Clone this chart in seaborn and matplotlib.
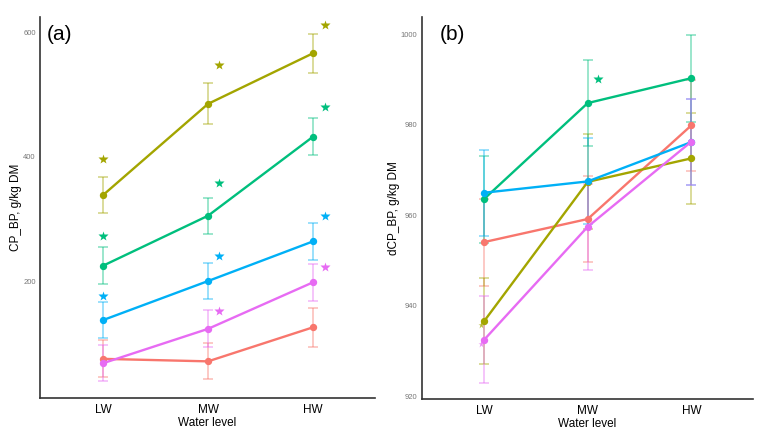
import seaborn as sns
import numpy as np
import pandas as pd
import matplotlib.pyplot as plt

# water levels and groups
levels = ['LW', 'MW', 'HW']
groups = ['G1', 'G2', 'G3', 'G4', 'G5']
colors = ['#F8766D', '#A3A500', '#00BF7D', '#00B0F6', '#E76BF3']

# panel (a): CP_BP means and error half-widths
cp_mean = {
    'G1': [77, 73, 127.5],
    'G2': [339, 485, 566],
    'G3': [226, 306, 432.5],
    'G4': [139, 201.5, 265],
    'G5': [70, 125, 199.5],
}
cp_err = {
    'G1': [29.5, 29, 31],
    'G2': [29, 33, 31],
    'G3': [29.5, 28.5, 29.5],
    'G4': [29, 29, 29.5],
    'G5': [29, 29.5, 29.5],
}
# significance stars (None = no star)
cp_star = {
    'G2': [396, 548, 612],
    'G3': [274, 358, 480],
    'G4': [178, 242, 306],
    'G5': [None, 154, 224],
}

# panel (b): dCP_BP
dcp_mean = {
    'G1': [954.1, 959.2, 979.9],
    'G2': [936.6, 967.4, 972.6],
    'G3': [963.6, 984.8, 990.3],
    'G4': [965.0, 967.5, 976.2],
    'G5': [932.5, 957.5, 976.3],
}
dcp_err = {
    'G1': [9.6, 9.6, 10.0],
    'G2': [9.5, 10.5, 10.1],
    'G3': [9.6, 9.5, 9.6],
    'G4': [9.5, 9.5, 9.6],
    'G5': [9.6, 9.5, 9.5],
}
dcp_star = {
    'G3': [None, 990.1, None],
}
dcp_small_star = {
    'G2': [935.8, None, None],
    'G5': [931.6, None, None],
}

plt.rcParams['font.family'] = ['Liberation Sans', 'DejaVu Sans']
pal = dict(zip(groups, colors))
star_dx = [0.0, 0.1, 0.11]


def long_form(means):
    rows = []
    for g in groups:
        for lv, v in zip(levels, means[g]):
            rows.append({'level': lv, 'group': g, 'value': v})
    return pd.DataFrame(rows)


def panel(ax, means, errs, stars, ylim, yticks, ylabel, tag, small=None):
    x = np.arange(len(levels))
    for g in groups:
        ax.errorbar(x, means[g], yerr=errs[g], fmt='none', ecolor=pal[g],
                    alpha=0.5, capsize=3.8, elinewidth=1.1, capthick=1.1, zorder=1)
    sns.pointplot(data=long_form(means), x='level', y='value', hue='group',
                  order=levels, hue_order=groups, palette=pal, errorbar=None,
                  markers='o', markersize=4, linewidth=1.7, legend=False, ax=ax)
    for g, vals in stars.items():
        for i, v in enumerate(vals):
            if v is not None:
                ax.plot(i + star_dx[i], v, marker='*', ms=7.5, color=pal[g],
                        mec='none', zorder=5)
    if small:
        for g, vals in small.items():
            for i, v in enumerate(vals):
                if v is not None:
                    ax.plot(i - 0.03, v, marker='*', ms=5, color=pal[g],
                            mec='none', alpha=0.8, zorder=5)
    ax.set_xlim(-0.6, 2.59)
    ax.set_ylim(*ylim)
    ax.set_yticks(yticks)
    ax.tick_params(axis='y', length=0, labelsize=5.5, labelcolor='#777777', pad=3)
    ax.tick_params(axis='x', length=0, labelsize=8.5, pad=4)
    ax.set_xlabel('Water level', fontsize=8.5, labelpad=1)
    ax.set_ylabel(ylabel, fontsize=8.5, labelpad=1)
    for s in ['top', 'right']:
        ax.spines[s].set_visible(False)
    for s in ['left', 'bottom']:
        ax.spines[s].set_linewidth(1.2)
        ax.spines[s].set_color('#333333')
    ax.set_facecolor('white')
    ax.text(0.02, 0.955, tag, transform=ax.transAxes, fontsize=15,
            ha='left', va='center')


fig = plt.figure(figsize=(7.63, 4.36), dpi=100)
ax1 = fig.add_axes([0.0524, 0.0872, 0.4391, 0.8738])
ax2 = fig.add_axes([0.5527, 0.0842, 0.4338, 0.8768])

panel(ax1, cp_mean, cp_err, cp_star, (14.4, 624), [200, 400, 600],
      'CP_BP, g/kg DM', '(a)')
panel(ax2, dcp_mean, dcp_err, dcp_star, (919.4, 1003.8),
      [920, 940, 960, 980, 1000], 'dCP_BP, g/kg DM', '(b)', small=dcp_small_star)
ax2.texts[-1].set_x(0.055)

fig.savefig('out.png', dpi=100)
